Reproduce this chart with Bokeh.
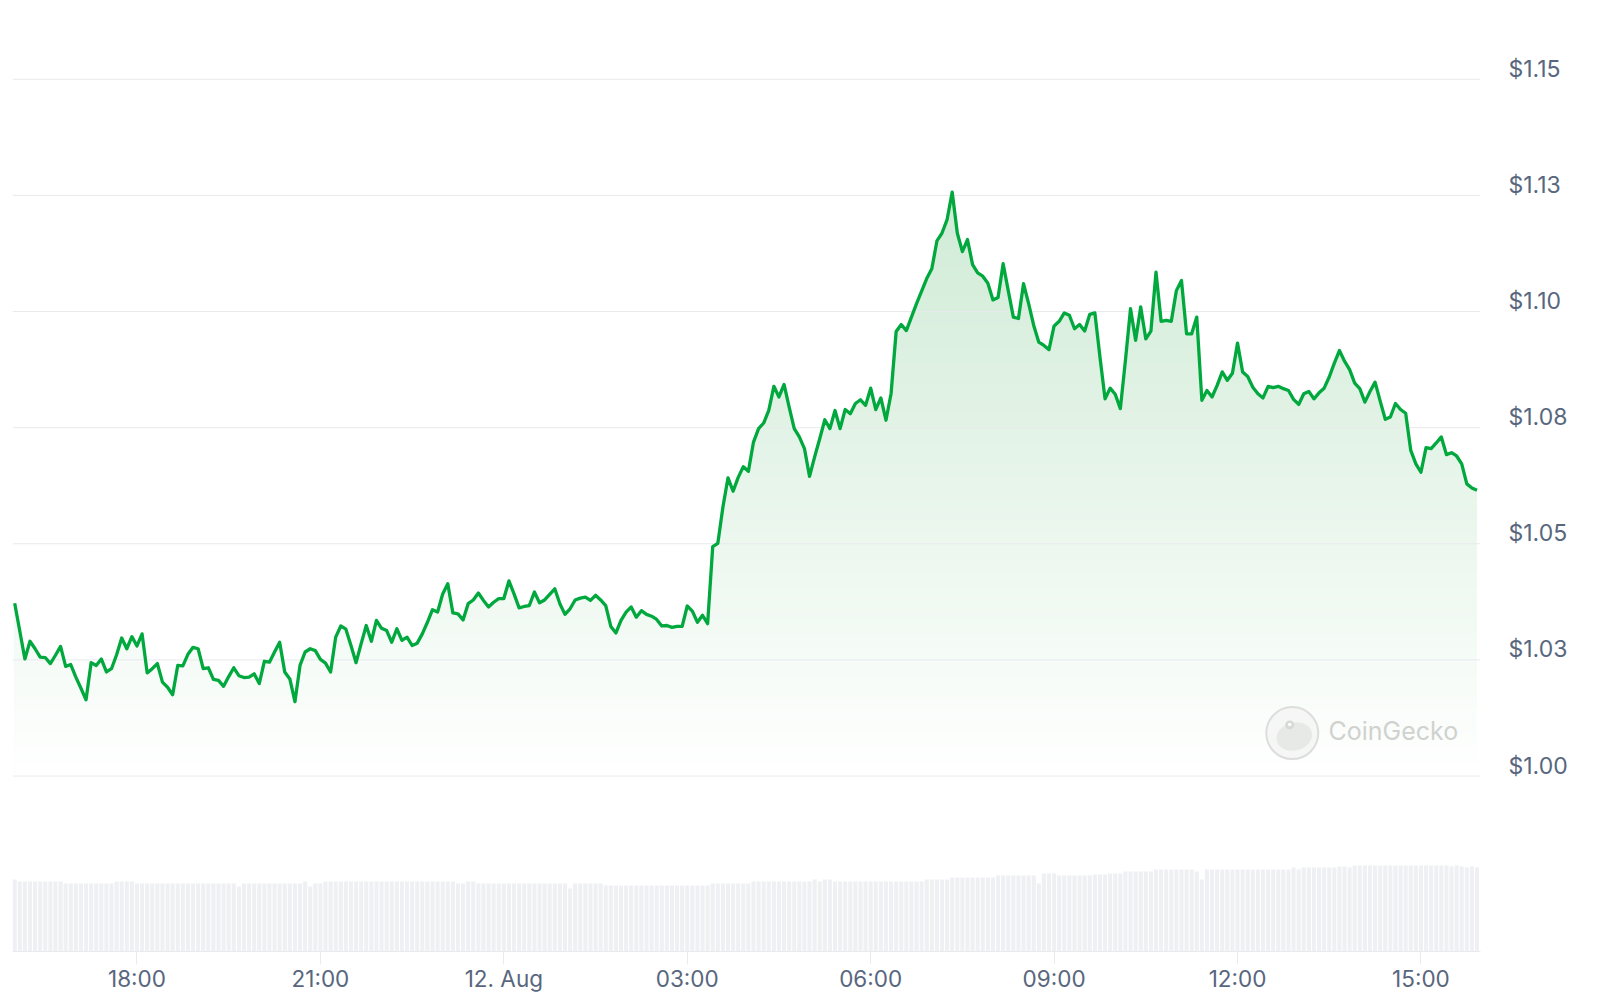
import numpy as np
import pandas as pd
from bokeh.plotting import figure
from bokeh.models import Range1d, FixedTicker, CustomJSTickFormatter, ColumnDataSource
from bokeh.core.properties import value
from bokeh.embed import file_html
from bokeh.resources import INLINE

# ---------------- data ----------------
start = pd.Timestamp("2024-08-11 16:00")
price_minutes = [0] + list(range(10, 1440, 5))          # minutes after start
prices = [
    1.0372, 1.0252, 1.0290, 1.0274, 1.0256, 1.0255, 1.0242, 1.0260, 1.0279, 1.0236, 1.0240, 1.0213,
    1.0189, 1.0164, 1.0244, 1.0238, 1.0252, 1.0224, 1.0231, 1.0261, 1.0297, 1.0274, 1.0300, 1.0280,
    1.0306, 1.0222, 1.0231, 1.0242, 1.0202, 1.0191, 1.0175, 1.0238, 1.0237, 1.0262, 1.0277, 1.0274,
    1.0231, 1.0233, 1.0208, 1.0206, 1.0193, 1.0214, 1.0233, 1.0216, 1.0212, 1.0213, 1.0220, 1.0199,
    1.0247, 1.0245, 1.0267, 1.0288, 1.0224, 1.0209, 1.0160, 1.0238, 1.0267, 1.0274, 1.0270, 1.0251,
    1.0243, 1.0224, 1.0299, 1.0323, 1.0316, 1.0281, 1.0244, 1.0285, 1.0324, 1.0290, 1.0335, 1.0318,
    1.0313, 1.0288, 1.0317, 1.0292, 1.0299, 1.0281, 1.0286, 1.0306, 1.0331, 1.0358, 1.0353, 1.0392,
    1.0414, 1.0351, 1.0349, 1.0336, 1.0371, 1.0379, 1.0394, 1.0378, 1.0364, 1.0374, 1.0382, 1.0382,
    1.0420,
    1.0392, 1.0362, 1.0365, 1.0367, 1.0396, 1.0373, 1.0379, 1.0391, 1.0403, 1.0371, 1.0348, 1.0360,
    1.0379, 1.0383, 1.0385, 1.0378, 1.0389, 1.0379, 1.0367, 1.0322, 1.0308, 1.0335, 1.0353, 1.0364,
    1.0342, 1.0356, 1.0348, 1.0344, 1.0337, 1.0323, 1.0324, 1.0320, 1.0322, 1.0322, 1.0366, 1.0355,
    1.0331, 1.0346, 1.0328, 1.0494, 1.0501,
    1.0579, 1.0642, 1.0613, 1.0643, 1.0666, 1.0656, 1.0719, 1.0748, 1.0760, 1.0787, 1.0839, 1.0816,
    1.0843, 1.0794, 1.0748, 1.0730, 1.0705, 1.0645, 1.0687, 1.0726, 1.0767, 1.0748, 1.0787, 1.0748,
    1.0789, 1.0780, 1.0802, 1.0810, 1.0798, 1.0835, 1.0789, 1.0814, 1.0766, 1.0823,
    1.0957, 1.0972, 1.0959, 1.0988, 1.1017, 1.1044, 1.1071, 1.1092, 1.1152, 1.1169, 1.1198, 1.1257,
    1.1169, 1.1129, 1.1155, 1.1101, 1.1083, 1.1076, 1.1061, 1.1025, 1.1030, 1.1103, 1.1045, 1.0988,
    1.0985, 1.1060, 1.1017, 1.0970, 1.0934, 1.0927, 1.0918, 1.0969, 1.0979, 1.0997, 1.0992, 1.0963,
    1.0972, 1.0958, 1.0994, 1.0997, 1.0902, 1.0812, 1.0835, 1.0822, 1.0791,
    1.0895, 1.1006, 1.0938, 1.1010, 1.0941, 1.0958, 1.1085, 1.0979, 1.0981, 1.0979, 1.1045, 1.1067,
    1.0952, 1.0952, 1.0988, 1.0809, 1.0830, 1.0816, 1.0841, 1.0870, 1.0852, 1.0867, 1.0932, 1.0870,
    1.0860, 1.0837, 1.0823, 1.0814, 1.0839, 1.0836, 1.0839, 1.0834, 1.0830, 1.0811, 1.0800, 1.0823,
    1.0828, 1.0812, 1.0825, 1.0835, 1.0859, 1.0889, 1.0916,
    1.0893, 1.0875, 1.0846, 1.0834, 1.0805, 1.0828, 1.0848, 1.0807, 1.0768, 1.0773, 1.0802, 1.0789,
    1.0781, 1.0701, 1.0672, 1.0654, 1.0707, 1.0705, 1.0717, 1.0730, 1.0692, 1.0696, 1.0689, 1.0672,
    1.0629, 1.0620, 1.0615,
]
vol_minutes = list(range(0, 1440, 5))
volumes = [  # volume bars, arbitrary units
    36, 35, 35, 35, 35, 35, 35, 35, 35, 35, 34, 34,
    34, 34, 34, 34, 34, 34, 34, 34, 35, 35, 35, 35,
    34, 34, 34, 34, 34, 34, 34, 34, 34, 34, 34, 34,
    34, 34, 34, 34, 34, 34, 34, 34, 32.5, 34, 34, 34,
    34, 34, 34, 34, 34, 34, 34, 34, 34, 35, 32.5, 34,
    34, 35, 35, 35, 35, 35, 35, 35, 35, 35, 35, 35,
    35, 35, 35, 35, 35, 35, 35, 35, 35, 35, 35, 35,
    35, 35, 35, 34, 34, 35, 35, 34, 34, 34, 34, 34,
    34, 34, 34, 34, 34, 34, 34, 34, 34, 34, 34, 34,
    34, 31.5, 34, 34, 34, 34, 34, 34, 33, 33, 33, 33,
    33, 33, 33, 33, 33, 33, 33, 33, 33, 33, 33, 33,
    33, 33, 33, 33, 33, 34, 34, 34, 34, 34, 34, 34,
    34, 35, 35, 35, 35, 35, 35, 35, 35, 35, 35, 35,
    35, 36, 35, 36, 36, 35, 35, 35, 35, 35, 35, 35,
    35, 35, 35, 35, 35, 35, 35, 35, 35, 35, 35, 36,
    36, 36, 36, 36, 37, 37, 37, 37, 37, 37, 37, 37,
    37, 38, 38, 38, 38, 38, 38, 38, 38, 34, 39, 39,
    39, 38, 38, 38, 38, 38, 38, 38, 38.5, 38.5, 38.5, 39,
    39, 39, 40, 40, 40, 40, 40, 40, 41, 41, 41, 41,
    41, 41, 41, 41, 40, 36, 41, 41, 41, 41, 41, 41,
    41, 41, 41, 41, 41, 41, 41, 41, 41, 41, 41, 42,
    41, 42, 42, 42, 42, 42, 42, 42, 42.5, 42.5, 42, 43,
    43, 43, 43, 43, 43, 43, 43, 43, 43, 43, 43, 43,
    43, 43, 43, 43, 43, 43, 42.5, 43, 42.5, 42, 42.5, 42,
]
grid_values = [1.00, 1.025, 1.05, 1.075, 1.10, 1.125, 1.15]
y_labels = ["$1.00", "$1.03", "$1.05", "$1.08", "$1.10", "$1.13", "$1.15"]
x_tick_times = ["2024-08-11 18:00", "2024-08-11 21:00", "2024-08-12 00:00", "2024-08-12 03:00",
                "2024-08-12 06:00", "2024-08-12 09:00", "2024-08-12 12:00", "2024-08-12 15:00"]

assert len(prices) == len(price_minutes)
assert len(volumes) == len(vol_minutes)

# ---------------- styling ----------------
GREEN = "#00a83e"
TXT = "#58667e"
GRID = "#e8eaee"
VOLC = "#eff0f3"
FONT = "Inter"

times = [start + pd.Timedelta(minutes=m) for m in price_minutes]
vtimes = [start + pd.Timedelta(minutes=m) for m in vol_minutes]

x_start = start - pd.Timedelta(minutes=2.16)
x_end = x_start + pd.Timedelta(minutes=1440.6)
y_start, y_end = 0.962215, 1.166965

p = figure(width=1600, height=1007, x_axis_type="datetime", y_axis_location="right",
           x_range=Range1d(x_start, x_end), y_range=Range1d(y_start, y_end),
           output_backend="svg", toolbar_location=None,
           min_border_left=12, min_border_right=120, min_border_top=0, min_border_bottom=56)
p.extra_y_ranges = {"vol": Range1d(0, 475.5)}
p.outline_line_color = None
p.background_fill_color = "white"
p.border_fill_color = "white"
p.xgrid.visible = False
p.ygrid.visible = False

# gradient fill under the line: opaque bands, then a white mask above the line
fill_top = max(prices)
n_bands = 140
tops = np.linspace(fill_top, 1.00, n_bands, endpoint=False)
frac = (tops - 1.00) / (fill_top - 1.00)
top_rgb = (208, 235, 214)
band_colors = ["#%02x%02x%02x" % tuple(int(round(255 + (c - 255) * f)) for c in top_rgb) for f in frac]
band_src = ColumnDataSource(dict(left=[times[0]] * n_bands, right=[times[-1]] * n_bands,
                                 bottom=[1.00] * n_bands, top=list(tops), color=band_colors))
p.quad(left="left", right="right", bottom="bottom", top="top", fill_color="color",
       line_color=None, source=band_src)
mask_x = [x_start] + times + [x_end]
mask_y = [prices[0]] + prices + [prices[-1]]
p.varea(x=mask_x, y1=mask_y, y2=[y_end] * len(mask_y), fill_color="white")

# horizontal grid lines
p.segment(x0=[x_start] * len(grid_values), x1=[x_end] * len(grid_values),
          y0=grid_values, y1=grid_values, line_color=GRID, line_width=1)

# volume bars
p.vbar(x=vtimes, top=volumes, bottom=0, width=4.0 * 60 * 1000, y_range_name="vol",
       fill_color=VOLC, line_color=None)

# watermark (decoration, anchored to the plot's right end)
logo_x = x_end - pd.Timedelta(minutes=184.7)
p.scatter(x=[logo_x], y=[1.00924], size=52, marker="circle",
          fill_color="#f5f6f5", line_color="#dcdedc", line_width=2)
p.ellipse(x=[logo_x + pd.Timedelta(minutes=2)], y=[1.0085], width=36, height=28,
          width_units="screen", height_units="screen", angle=0.25,
          fill_color="#e7e9e7", line_color=None)
p.scatter(x=[logo_x - pd.Timedelta(minutes=2.5)], y=[1.0110], size=9, marker="circle",
          fill_color="#d6d9d6", line_color=None)
p.scatter(x=[logo_x - pd.Timedelta(minutes=2.5)], y=[1.0111], size=3.5, marker="circle",
          fill_color="white", line_color=None)
p.text(x=[x_end], y=[1.00], text=["CoinGecko"], x_offset=-152, y_offset=-45,
       text_font=value(FONT), text_font_size="25px", text_font_style="normal",
       text_color="#cfd2cf", text_align="left", text_baseline="middle")

# price line
p.line(x=times, y=prices, line_color=GREEN, line_width=3.3, line_join="round")

# x axis
x_ticks = [pd.Timestamp(t).value / 1e6 for t in x_tick_times]
p.xaxis.ticker = FixedTicker(ticks=x_ticks)
p.xaxis.formatter = CustomJSTickFormatter(code="""
const d = new Date(tick);
const h = d.getUTCHours(), m = d.getUTCMinutes();
if (h === 0 && m === 0) {
  const months = ["Jan","Feb","Mar","Apr","May","Jun","Jul","Aug","Sep","Oct","Nov","Dec"];
  return d.getUTCDate() + ". " + months[d.getUTCMonth()];
}
return String(h).padStart(2, "0") + ":" + String(m).padStart(2, "0");
""")
p.xaxis.axis_line_color = GRID
p.xaxis.major_tick_line_color = GRID
p.xaxis.major_tick_out = 13
p.xaxis.major_tick_in = 0
p.xaxis.minor_tick_line_color = None
p.xaxis.major_label_standoff = 0
p.xaxis.major_label_text_font = FONT
p.xaxis.major_label_text_font_size = "22.5px"
p.xaxis.major_label_text_color = TXT

# y axis (right), labels sit slightly above their grid lines
lab_off = 10.5 / 4644.7
p.yaxis.ticker = FixedTicker(ticks=[v + lab_off for v in grid_values])
p.yaxis.formatter = CustomJSTickFormatter(
    args=dict(labels=y_labels, base=grid_values[0] + lab_off, step=0.025),
    code="return labels[Math.round((tick - base) / step)];")
p.yaxis.axis_line_color = None
p.yaxis.major_tick_line_color = None
p.yaxis.minor_tick_line_color = None
p.yaxis.major_tick_out = 0
p.yaxis.major_tick_in = 0
p.yaxis.major_label_standoff = 28
p.yaxis.major_label_text_font = FONT
p.yaxis.major_label_text_font_size = "23px"
p.yaxis.major_label_text_color = TXT

open("out.html", "w").write(file_html(p, INLINE))
